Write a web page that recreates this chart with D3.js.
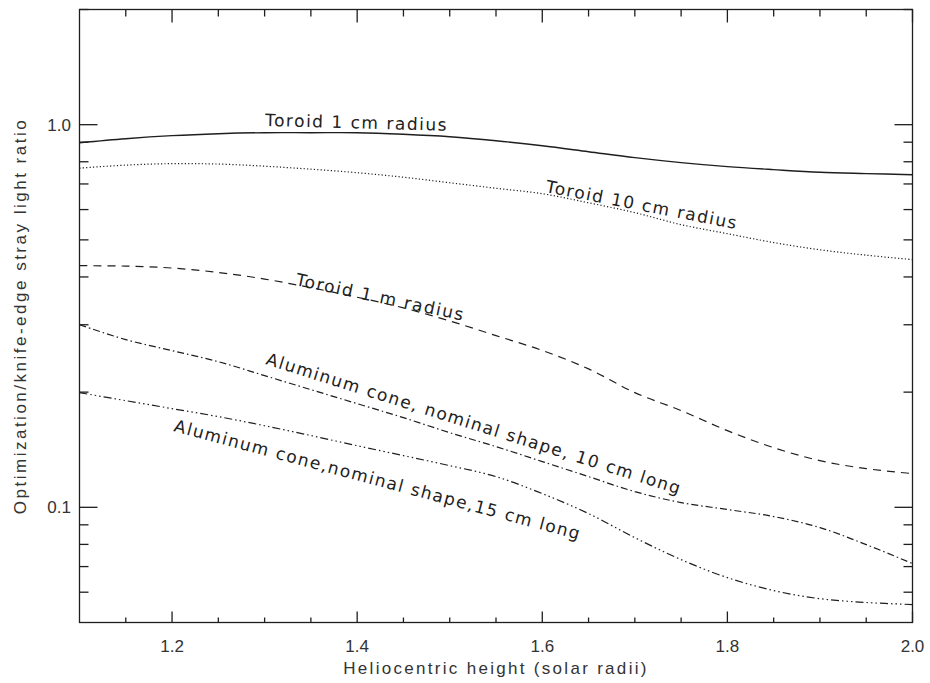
<!DOCTYPE html>
<html>
<head>
<meta charset="utf-8">
<script src="https://cdn.jsdelivr.net/npm/d3@7"></script>
<style>
  html, body { margin: 0; padding: 0; background: #fff; }
  svg { display: block; }
</style>
</head>
<body>
<svg id="chart" width="930" height="683"></svg>
<script>
// ---------------- data ----------------
const xValues = [1.10,1.15,1.20,1.25,1.30,1.35,1.40,1.45,1.50,1.55,1.60,1.65,1.70,1.75,1.80,1.85,1.90,1.95,2.00];
const toroid1cm  = [0.897,0.919,0.936,0.947,0.953,0.953,0.953,0.944,0.930,0.908,0.881,0.850,0.820,0.796,0.777,0.763,0.751,0.745,0.740];
const toroid10cm = [0.770,0.784,0.791,0.789,0.779,0.765,0.749,0.729,0.705,0.682,0.660,0.625,0.589,0.548,0.519,0.492,0.471,0.456,0.444];
const toroid1m   = [0.428,0.427,0.422,0.411,0.395,0.375,0.354,0.332,0.307,0.281,0.257,0.230,0.1994,0.179,0.1586,0.1432,0.1324,0.1262,0.1225];
const cone10cm   = [0.3001,0.2743,0.2567,0.2402,0.2209,0.2030,0.1866,0.1715,0.1567,0.1441,0.1317,0.1203,0.1099,0.1029,0.0987,0.0946,0.0885,0.0799,0.0713];
const cone15cm   = [0.1994,0.1900,0.1811,0.1726,0.1634,0.1540,0.1449,0.1365,0.1285,0.1203,0.1086,0.0963,0.0833,0.0730,0.0655,0.0606,0.0577,0.0564,0.0557];

const seriesNames = ["Toroid 1 cm radius","Toroid 10 cm radius","Toroid 1 m radius",
                     "Aluminum cone, nominal shape, 10 cm long","Aluminum cone,nominal shape,15 cm long"];
const xTickLabels = ["1.2","1.4","1.6","1.8","2.0"];
const yTickLabels = ["0.1","1.0"];
const xTitle = "Heliocentric height (solar radii)";
const yTitle = "Optimization/knife-edge stray light ratio";

// ---------------- layout ----------------
const svg = d3.select("#chart");
const L = 79.5, R = 912.5, T = 9.5, B = 622.5;
const x = d3.scaleLinear().domain([1.1, 2.0]).range([L, R]);
const y = d3.scaleLog().domain([0.05, 2.0]).range([B, T]);
const ink = "#1e1e1e";

const series = [toroid1cm, toroid10cm, toroid1m, cone10cm, cone15cm];
const dashes = [null, "1.2,2.2", "8,6", "7,3,1.5,3", "8,3,1.5,3,1.5,3,1.5,3"];

const line = d3.line()
  .x((d, i) => x(xValues[i]))
  .y(d => y(d))
  .curve(d3.curveCatmullRom.alpha(0.5));

series.forEach((s, k) => {
  svg.append("path")
    .attr("d", line(s))
    .attr("fill", "none")
    .attr("stroke", ink)
    .attr("stroke-width", k === 0 ? 1.4 : 1.2)
    .attr("stroke-dasharray", dashes[k]);
});

// ---------------- frame & ticks ----------------
svg.append("rect")
  .attr("x", L).attr("y", T).attr("width", R - L).attr("height", B - T)
  .attr("fill", "none").attr("stroke", ink).attr("stroke-width", 1.3);

const xMinor = d3.range(1.15, 2.0001, 0.05).map(v => +v.toFixed(2));
xMinor.forEach(v => {
  const major = Math.abs(v * 5 - Math.round(v * 5)) < 1e-6;
  const len = major ? 11 : 5;
  svg.append("line").attr("x1", x(v)).attr("x2", x(v)).attr("y1", B).attr("y2", B - len)
    .attr("stroke", ink).attr("stroke-width", 1.3);
  svg.append("line").attr("x1", x(v)).attr("x2", x(v)).attr("y1", T).attr("y2", T + (major ? 13 : 7))
    .attr("stroke", ink).attr("stroke-width", 1.3);
});

const yTicks = [0.06,0.07,0.08,0.09,0.1,0.2,0.3,0.4,0.5,0.6,0.7,0.8,0.9,1.0,2.0];
yTicks.forEach(v => {
  const major = (v === 0.1 || v === 1.0);
  const len = major ? 18 : 9;
  svg.append("line").attr("x1", L).attr("x2", L + len).attr("y1", y(v)).attr("y2", y(v))
    .attr("stroke", ink).attr("stroke-width", 1.3);
  svg.append("line").attr("x1", R).attr("x2", R - len).attr("y1", y(v)).attr("y2", y(v))
    .attr("stroke", ink).attr("stroke-width", 1.3);
});

// tick labels
const tickFont = "'Liberation Sans', Arial, sans-serif";
xTickLabels.forEach(t => {
  svg.append("text").attr("x", x(+t)).attr("y", 652)
    .attr("text-anchor", "middle").attr("font-family", tickFont).attr("font-size", 17)
    .attr("fill", "#333").text(t);
});
yTickLabels.forEach(t => {
  svg.append("text").attr("x", 71).attr("y", y(+t)).attr("dy", "0.36em")
    .attr("text-anchor", "end").attr("font-family", tickFont).attr("font-size", 17)
    .attr("fill", "#333").text(t);
});

// axis titles
svg.append("text").attr("x", (L + R) / 2).attr("y", 674)
  .attr("text-anchor", "middle").attr("font-family", tickFont).attr("font-size", 17)
  .attr("letter-spacing", 2.3).attr("fill", "#333").text(xTitle);
svg.append("text")
  .attr("transform", `translate(26,${(T + B) / 2}) rotate(-90)`)
  .attr("text-anchor", "middle").attr("font-family", tickFont).attr("font-size", 17)
  .attr("letter-spacing", 2.5).attr("fill", "#333").text(yTitle);

// ---------------- curve labels ----------------
const labelAnchors = [
  {x: 1.3004, v: 0.992, a: 1.5},
  {x: 1.603,  v: 0.667, a: 11},
  {x: 1.3328, v: 0.381, a: 12},
  {x: 1.3004, v: 0.2369, a: 17.5},
  {x: 1.201,  v: 0.1583, a: 15}
];
labelAnchors.forEach((p, k) => {
  svg.append("text")
    .attr("transform", `translate(${x(p.x)},${y(p.v)}) rotate(${p.a})`)
    .attr("font-family", "'DejaVu Sans', sans-serif").attr("font-size", 17)
    .attr("letter-spacing", 1.5).attr("fill", "#222")
    .text(seriesNames[k]);
});
</script>
</body>
</html>
